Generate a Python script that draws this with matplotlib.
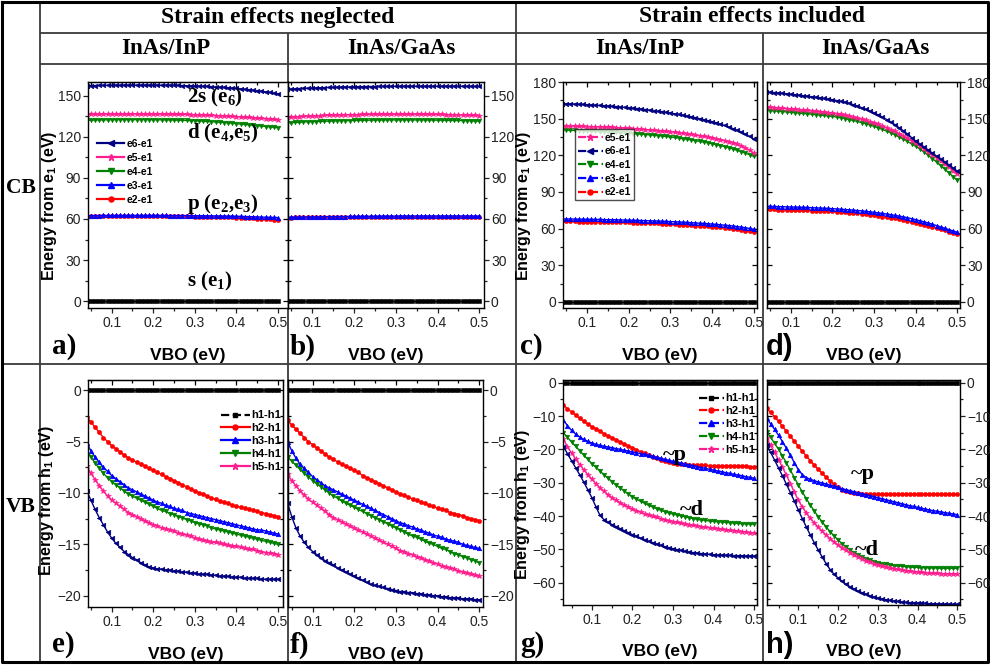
import matplotlib
matplotlib.use("Agg")
import matplotlib.pyplot as plt
from matplotlib.ticker import MultipleLocator, FormatStrFormatter
from matplotlib.lines import Line2D

plt.rcParams['font.family'] = ['Liberation Sans', 'DejaVu Sans']
plt.rcParams['mathtext.default'] = 'regular'

# ---------------- data ----------------
vbo = [0.04, 0.05, 0.06, 0.07, 0.08, 0.09, 0.10, 0.11, 0.12, 0.13,
       0.14, 0.15, 0.16, 0.17, 0.18, 0.19, 0.20, 0.21, 0.22, 0.23,
       0.24, 0.25, 0.26, 0.27, 0.28, 0.29, 0.30, 0.31, 0.32, 0.33,
       0.34, 0.35, 0.36, 0.37, 0.38, 0.39, 0.40, 0.41, 0.42, 0.43,
       0.44, 0.45, 0.46, 0.47, 0.48, 0.49, 0.50]
vbo_g = [0.03, 0.04, 0.05, 0.06, 0.07, 0.08, 0.09, 0.10, 0.11, 0.12,
         0.13, 0.14, 0.15, 0.16, 0.17, 0.18, 0.19, 0.20, 0.21, 0.22,
         0.23, 0.24, 0.25, 0.26, 0.27, 0.28, 0.29, 0.30, 0.31, 0.32,
         0.33, 0.34, 0.35, 0.36, 0.37, 0.38, 0.39, 0.40, 0.41, 0.42,
         0.43, 0.44, 0.45, 0.46, 0.47, 0.48, 0.49, 0.50]
vbo_h = [0.02, 0.03, 0.04, 0.05, 0.06, 0.07, 0.08, 0.09, 0.10, 0.11,
         0.12, 0.13, 0.14, 0.15, 0.16, 0.17, 0.18, 0.19, 0.20, 0.21,
         0.22, 0.23, 0.24, 0.25, 0.26, 0.27, 0.28, 0.29, 0.30, 0.31,
         0.32, 0.33, 0.34, 0.35, 0.36, 0.37, 0.38, 0.39, 0.40, 0.41,
         0.42, 0.43, 0.44, 0.45, 0.46, 0.47, 0.48, 0.49, 0.50]

zero = [0, 0, 0, 0, 0, 0, 0, 0, 0, 0,
        0, 0, 0, 0, 0, 0, 0, 0, 0, 0,
        0, 0, 0, 0, 0, 0, 0, 0, 0, 0,
        0, 0, 0, 0, 0, 0, 0, 0, 0, 0,
        0, 0, 0, 0, 0, 0, 0]
zero_g = [0, 0, 0, 0, 0, 0, 0, 0, 0, 0,
          0, 0, 0, 0, 0, 0, 0, 0, 0, 0,
          0, 0, 0, 0, 0, 0, 0, 0, 0, 0,
          0, 0, 0, 0, 0, 0, 0, 0, 0, 0,
          0, 0, 0, 0, 0, 0, 0, 0]
zero_h = [0, 0, 0, 0, 0, 0, 0, 0, 0, 0,
          0, 0, 0, 0, 0, 0, 0, 0, 0, 0,
          0, 0, 0, 0, 0, 0, 0, 0, 0, 0,
          0, 0, 0, 0, 0, 0, 0, 0, 0, 0,
          0, 0, 0, 0, 0, 0, 0, 0, 0]

# (a) strain neglected, InAs/InP, conduction band
a_e2 = [62.0, 62.0, 62.1, 62.1, 62.1, 62.2, 62.2, 62.2, 62.2, 62.2,
        62.2, 62.2, 62.2, 62.2, 62.2, 62.2, 62.2, 62.2, 62.2, 62.1,
        62.1, 62.1, 62.0, 62.0, 61.9, 61.9, 61.8, 61.8, 61.7, 61.6,
        61.6, 61.5, 61.4, 61.3, 61.2, 61.1, 61.0, 60.9, 60.7, 60.6,
        60.4, 60.3, 60.1, 59.9, 59.7, 59.5, 59.3]
a_e3 = [62.4, 62.5, 62.5, 62.5, 62.6, 62.6, 62.6, 62.6, 62.6, 62.6,
        62.6, 62.6, 62.6, 62.6, 62.6, 62.6, 62.6, 62.6, 62.6, 62.6,
        62.5, 62.5, 62.5, 62.5, 62.5, 62.4, 62.4, 62.4, 62.3, 62.3,
        62.3, 62.2, 62.2, 62.1, 62.1, 62.0, 62.0, 61.9, 61.8, 61.7,
        61.6, 61.5, 61.4, 61.3, 61.2, 61.1, 61.0]
a_e4 = [132.0, 132.1, 132.2, 132.3, 132.3, 132.4, 132.4, 132.5, 132.5, 132.5,
        132.5, 132.5, 132.5, 132.5, 132.5, 132.5, 132.4, 132.4, 132.4, 132.3,
        132.3, 132.2, 132.1, 132.0, 131.9, 131.8, 131.7, 131.5, 131.4, 131.2,
        131.0, 130.8, 130.6, 130.4, 130.2, 129.9, 129.6, 129.3, 129.0, 128.7,
        128.4, 128.1, 127.8, 127.5, 127.2, 126.9, 126.6]
a_e5 = [136.4, 136.5, 136.5, 136.6, 136.6, 136.6, 136.7, 136.7, 136.7, 136.7,
        136.7, 136.7, 136.7, 136.7, 136.7, 136.7, 136.7, 136.6, 136.6, 136.6,
        136.5, 136.5, 136.4, 136.4, 136.3, 136.2, 136.1, 136.0, 135.9, 135.8,
        135.7, 135.5, 135.4, 135.2, 135.1, 134.9, 134.7, 134.5, 134.3, 134.1,
        133.9, 133.7, 133.5, 133.2, 133.0, 132.7, 132.4]
a_e6 = [157.3, 157.4, 157.4, 157.5, 157.5, 157.6, 157.6, 157.6, 157.6, 157.7,
        157.7, 157.7, 157.7, 157.7, 157.7, 157.7, 157.7, 157.7, 157.6, 157.6,
        157.6, 157.5, 157.5, 157.4, 157.3, 157.2, 157.1, 157.0, 156.9, 156.8,
        156.6, 156.4, 156.2, 156.0, 155.8, 155.6, 155.3, 155.0, 154.7, 154.4,
        154.0, 153.6, 153.2, 152.8, 152.4, 151.9, 151.4]

# (b) strain neglected, InAs/GaAs, conduction band
b_e2 = [61.0, 61.0, 61.1, 61.1, 61.1, 61.2, 61.2, 61.2, 61.3, 61.3,
        61.3, 61.3, 61.4, 61.4, 61.4, 61.4, 61.4, 61.5, 61.5, 61.5,
        61.5, 61.5, 61.5, 61.5, 61.6, 61.6, 61.6, 61.6, 61.6, 61.6,
        61.6, 61.6, 61.6, 61.6, 61.6, 61.6, 61.6, 61.6, 61.6, 61.6,
        61.6, 61.6, 61.6, 61.5, 61.5, 61.5, 61.5]
b_e3 = [61.2, 61.3, 61.3, 61.4, 61.4, 61.5, 61.5, 61.6, 61.6, 61.7,
        61.7, 61.7, 61.8, 61.8, 61.8, 61.9, 61.9, 61.9, 62.0, 62.0,
        62.0, 62.0, 62.1, 62.1, 62.1, 62.1, 62.1, 62.2, 62.2, 62.2,
        62.2, 62.2, 62.2, 62.2, 62.2, 62.2, 62.2, 62.2, 62.2, 62.2,
        62.2, 62.2, 62.2, 62.2, 62.2, 62.1, 62.1]
b_e4 = [130.1, 130.3, 130.5, 130.6, 130.8, 130.9, 131.0, 131.1, 131.2, 131.3,
        131.4, 131.5, 131.6, 131.7, 131.8, 131.8, 131.9, 132.0, 132.0, 132.1,
        132.1, 132.2, 132.2, 132.2, 132.3, 132.3, 132.3, 132.3, 132.3, 132.3,
        132.3, 132.3, 132.3, 132.2, 132.2, 132.2, 132.1, 132.1, 132.0, 132.0,
        131.9, 131.9, 131.8, 131.7, 131.6, 131.5, 131.4]
b_e5 = [134.2, 134.4, 134.6, 134.8, 134.9, 135.1, 135.2, 135.3, 135.5, 135.6,
        135.7, 135.8, 135.9, 136.0, 136.0, 136.1, 136.2, 136.2, 136.3, 136.3,
        136.4, 136.4, 136.4, 136.5, 136.5, 136.5, 136.5, 136.5, 136.5, 136.5,
        136.5, 136.5, 136.5, 136.4, 136.4, 136.4, 136.3, 136.3, 136.2, 136.2,
        136.1, 136.0, 135.9, 135.8, 135.7, 135.6, 135.5]
b_e6 = [154.6, 154.8, 155.0, 155.2, 155.3, 155.5, 155.6, 155.7, 155.8, 155.9,
        156.0, 156.1, 156.2, 156.3, 156.4, 156.4, 156.5, 156.6, 156.6, 156.7,
        156.7, 156.7, 156.8, 156.8, 156.8, 156.8, 156.9, 156.9, 156.9, 156.9,
        156.9, 156.9, 156.9, 156.9, 156.9, 156.9, 156.9, 156.9, 156.9, 156.9,
        156.9, 156.9, 156.9, 156.9, 156.8, 156.8, 156.8]

# (c) strain included, InAs/InP, conduction band
c_e2 = [66.0, 66.0, 65.9, 65.9, 65.8, 65.8, 65.7, 65.7, 65.6, 65.6,
        65.5, 65.4, 65.4, 65.3, 65.2, 65.1, 65.0, 64.9, 64.8, 64.7,
        64.6, 64.5, 64.3, 64.2, 64.0, 63.9, 63.7, 63.5, 63.3, 63.1,
        62.9, 62.7, 62.5, 62.3, 62.0, 61.8, 61.5, 61.2, 60.9, 60.5,
        60.1, 59.7, 59.3, 58.8, 58.3, 57.8, 57.2]
c_e3 = [67.9, 67.9, 67.8, 67.8, 67.7, 67.7, 67.6, 67.6, 67.5, 67.5,
        67.4, 67.3, 67.3, 67.2, 67.1, 67.0, 66.9, 66.8, 66.7, 66.6,
        66.5, 66.4, 66.3, 66.2, 66.0, 65.9, 65.7, 65.6, 65.4, 65.2,
        65.0, 64.8, 64.6, 64.4, 64.2, 64.0, 63.7, 63.4, 63.1, 62.8,
        62.5, 62.1, 61.7, 61.2, 60.7, 60.1, 59.4]
c_e4 = [140.7, 140.6, 140.5, 140.3, 140.2, 140.0, 139.9, 139.7, 139.6, 139.4,
        139.3, 139.1, 138.9, 138.7, 138.5, 138.2, 138.0, 137.8, 137.5, 137.3,
        137.0, 136.7, 136.4, 136.1, 135.8, 135.4, 135.0, 134.6, 134.1, 133.6,
        133.1, 132.6, 132.0, 131.4, 130.8, 130.2, 129.5, 128.8, 128.0, 127.1,
        126.2, 125.2, 124.1, 123.0, 121.8, 120.5, 119.1]
c_e5 = [144.0, 143.9, 143.9, 143.8, 143.7, 143.6, 143.5, 143.4, 143.3, 143.2,
        143.1, 142.9, 142.8, 142.6, 142.4, 142.2, 142.0, 141.8, 141.6, 141.4,
        141.1, 140.8, 140.5, 140.2, 139.9, 139.6, 139.3, 138.9, 138.5, 138.1,
        137.6, 137.1, 136.6, 136.1, 135.5, 134.9, 134.3, 133.6, 132.9, 132.1,
        131.2, 130.2, 129.1, 127.8, 126.3, 124.2, 121.8]
c_e6 = [162.3, 162.2, 162.1, 162.0, 161.8, 161.6, 161.4, 161.2, 161.0, 160.8,
        160.6, 160.4, 160.1, 159.8, 159.5, 159.2, 158.9, 158.6, 158.2, 157.8,
        157.4, 157.0, 156.6, 156.1, 155.6, 155.1, 154.6, 154.0, 153.4, 152.8,
        152.2, 151.5, 150.8, 150.0, 149.2, 148.4, 147.5, 146.5, 145.5, 144.4,
        143.2, 141.9, 140.5, 139.0, 137.3, 135.4, 133.3]

# (d) strain included, InAs/GaAs, conduction band
d_e2 = [75.9, 75.8, 75.7, 75.6, 75.5, 75.4, 75.3, 75.2, 75.1, 75.0,
        74.9, 74.8, 74.7, 74.6, 74.4, 74.3, 74.1, 73.9, 73.7, 73.4,
        73.1, 72.8, 72.5, 72.2, 71.8, 71.4, 70.9, 70.4, 69.9, 69.4,
        68.9, 68.3, 67.7, 67.0, 66.3, 65.5, 64.7, 63.9, 63.1, 62.3,
        61.4, 60.5, 59.5, 58.5, 57.5, 56.5, 55.6]
d_e3 = [78.3, 78.2, 78.1, 78.0, 77.9, 77.8, 77.7, 77.6, 77.5, 77.4,
        77.3, 77.1, 77.0, 76.8, 76.7, 76.5, 76.3, 76.1, 75.9, 75.6,
        75.4, 75.1, 74.8, 74.5, 74.1, 73.7, 73.3, 72.8, 72.4, 71.9,
        71.4, 70.8, 70.2, 69.6, 68.9, 68.1, 67.3, 66.4, 65.5, 64.5,
        63.5, 62.4, 61.3, 60.2, 59.1, 58.0, 56.9]
d_e4 = [156.7, 156.5, 156.3, 156.1, 155.8, 155.5, 155.2, 154.9, 154.6, 154.3,
        154.0, 153.6, 153.3, 152.9, 152.6, 152.2, 151.9, 151.3, 150.7, 150.0,
        149.3, 148.5, 147.7, 146.8, 145.8, 144.8, 143.7, 142.5, 141.2, 139.8,
        138.3, 136.7, 135.0, 133.2, 131.3, 129.3, 127.3, 125.0, 122.6, 120.0,
        117.3, 114.4, 111.4, 108.4, 105.4, 102.4, 99.4]
d_e5 = [159.5, 159.3, 159.1, 158.9, 158.6, 158.3, 158.0, 157.7, 157.4, 157.0,
        156.7, 156.4, 156.0, 155.7, 155.3, 155.0, 154.6, 154.0, 153.4, 152.7,
        152.0, 151.2, 150.4, 149.6, 148.6, 147.6, 146.5, 145.3, 144.0, 142.6,
        141.1, 139.5, 137.8, 136.0, 134.1, 132.1, 130.0, 127.7, 125.4, 123.0,
        120.6, 118.1, 115.5, 112.8, 110.1, 107.4, 104.7]
d_e6 = [171.8, 171.6, 171.3, 171.0, 170.7, 170.4, 170.0, 169.6, 169.2, 168.8,
        168.4, 167.9, 167.5, 167.0, 166.5, 166.0, 165.5, 164.8, 164.2, 163.5,
        162.6, 161.4, 160.3, 159.0, 157.7, 156.2, 154.6, 153.0, 151.2, 149.3,
        147.2, 145.0, 142.6, 140.1, 137.4, 134.5, 131.4, 129.0, 126.6, 124.1,
        121.6, 119.2, 116.8, 114.3, 111.8, 109.4, 106.9]

# (e) strain neglected, InAs/InP, valence band
e_h2 = [-2.6, -3.1, -3.6, -4.1, -4.6, -5.0, -5.4, -5.7, -6.0, -6.3,
        -6.6, -6.8, -7.0, -7.2, -7.4, -7.6, -7.8, -8.0, -8.2, -8.4,
        -8.6, -8.8, -9.0, -9.2, -9.4, -9.6, -9.8, -10.0, -10.1, -10.3,
        -10.5, -10.6, -10.8, -10.9, -11.0, -11.2, -11.3, -11.4, -11.5, -11.6,
        -11.7, -11.8, -11.9, -12.0, -12.1, -12.2, -12.3]
e_h3 = [-5.1, -5.9, -6.5, -7.0, -7.5, -7.9, -8.3, -8.6, -8.9, -9.2,
        -9.5, -9.7, -9.9, -10.1, -10.3, -10.5, -10.7, -10.9, -11.0, -11.2,
        -11.3, -11.5, -11.6, -11.7, -11.9, -12.0, -12.1, -12.2, -12.3, -12.4,
        -12.5, -12.6, -12.7, -12.8, -12.9, -13.0, -13.1, -13.2, -13.3, -13.4,
        -13.5, -13.6, -13.6, -13.7, -13.8, -13.9, -14.0]
e_h4 = [-5.8, -6.5, -7.1, -7.6, -8.1, -8.5, -8.9, -9.2, -9.5, -9.8,
        -10.1, -10.3, -10.5, -10.7, -10.9, -11.1, -11.3, -11.5, -11.7, -11.8,
        -12.0, -12.1, -12.3, -12.4, -12.6, -12.7, -12.9, -13.0, -13.1, -13.2,
        -13.4, -13.5, -13.6, -13.7, -13.8, -13.9, -14.0, -14.1, -14.2, -14.3,
        -14.4, -14.5, -14.6, -14.7, -14.8, -14.9, -15.0]
e_h5 = [-7.4, -8.1, -8.7, -9.3, -9.8, -10.3, -10.7, -11.0, -11.3, -11.6,
        -11.9, -12.1, -12.3, -12.5, -12.7, -12.9, -13.1, -13.2, -13.4, -13.5,
        -13.6, -13.7, -13.9, -14.0, -14.1, -14.2, -14.4, -14.5, -14.6, -14.7,
        -14.8, -14.8, -14.9, -15.0, -15.1, -15.2, -15.2, -15.3, -15.4, -15.5,
        -15.5, -15.6, -15.7, -15.8, -15.8, -15.9, -16.0]
e_h6 = [-9.8, -10.7, -11.6, -12.4, -13.1, -13.8, -14.4, -14.9, -15.3, -15.7,
        -16.0, -16.3, -16.5, -16.8, -17.0, -17.2, -17.3, -17.4, -17.4, -17.5,
        -17.5, -17.6, -17.6, -17.7, -17.7, -17.8, -17.8, -17.9, -17.9, -17.9,
        -18.0, -18.0, -18.1, -18.1, -18.1, -18.2, -18.2, -18.2, -18.3, -18.3,
        -18.3, -18.3, -18.4, -18.4, -18.4, -18.4, -18.4]

# (f) strain neglected, InAs/GaAs, valence band
f_h2 = [-2.9, -3.4, -3.8, -4.2, -4.6, -5.0, -5.3, -5.6, -5.9, -6.2,
        -6.5, -6.7, -7.0, -7.2, -7.4, -7.6, -7.8, -8.0, -8.3, -8.5,
        -8.7, -8.9, -9.1, -9.3, -9.5, -9.7, -9.9, -10.1, -10.2, -10.4,
        -10.6, -10.7, -10.9, -11.0, -11.2, -11.3, -11.5, -11.6, -11.7, -11.9,
        -12.0, -12.1, -12.2, -12.4, -12.5, -12.6, -12.7]
f_h3 = [-5.0, -5.9, -6.6, -7.2, -7.6, -8.0, -8.4, -8.7, -9.0, -9.3,
        -9.5, -9.7, -9.9, -10.1, -10.3, -10.5, -10.7, -10.9, -11.1, -11.3,
        -11.5, -11.7, -11.9, -12.1, -12.3, -12.5, -12.7, -12.9, -13.0, -13.2,
        -13.3, -13.5, -13.6, -13.8, -13.9, -14.1, -14.2, -14.3, -14.5, -14.6,
        -14.7, -14.8, -15.0, -15.1, -15.2, -15.3, -15.4]
f_h4 = [-6.5, -6.9, -7.3, -7.7, -8.1, -8.4, -8.8, -9.1, -9.4, -9.7,
        -10.0, -10.3, -10.5, -10.8, -11.0, -11.2, -11.4, -11.6, -11.8, -12.0,
        -12.2, -12.4, -12.6, -12.8, -13.0, -13.2, -13.4, -13.6, -13.8, -14.0,
        -14.2, -14.3, -14.5, -14.7, -14.9, -15.0, -15.2, -15.4, -15.5, -15.7,
        -15.9, -16.0, -16.2, -16.3, -16.5, -16.6, -16.8]
f_h5 = [-8.2, -8.8, -9.3, -9.8, -10.2, -10.6, -10.9, -11.2, -11.5, -11.8,
        -12.1, -12.4, -12.6, -12.8, -13.0, -13.2, -13.4, -13.6, -13.8, -14.0,
        -14.2, -14.4, -14.6, -14.8, -15.0, -15.2, -15.4, -15.6, -15.7, -15.9,
        -16.0, -16.2, -16.3, -16.5, -16.6, -16.8, -16.9, -17.1, -17.2, -17.3,
        -17.4, -17.6, -17.7, -17.8, -17.9, -18.0, -18.1]
f_h6 = [-11.0, -12.3, -13.4, -14.2, -14.8, -15.3, -15.7, -16.0, -16.3, -16.6,
        -16.8, -17.0, -17.3, -17.5, -17.7, -17.9, -18.1, -18.3, -18.5, -18.7,
        -18.9, -19.0, -19.1, -19.2, -19.3, -19.4, -19.5, -19.6, -19.6, -19.7,
        -19.7, -19.8, -19.8, -19.9, -19.9, -20.0, -20.0, -20.1, -20.1, -20.2,
        -20.2, -20.2, -20.3, -20.3, -20.3, -20.4, -20.4]

# (g) strain included, InAs/InP, valence band
g_h2 = [-6.7, -7.8, -8.8, -9.8, -10.7, -11.6, -12.4, -13.2, -13.9, -14.6,
        -15.3, -16.0, -16.6, -17.2, -17.8, -18.4, -19.0, -19.6, -20.1, -20.7,
        -21.2, -21.7, -22.2, -22.7, -23.1, -23.5, -23.8, -24.1, -24.3, -24.4,
        -24.5, -24.6, -24.7, -24.7, -24.8, -24.8, -24.9, -24.9, -24.9, -25.0,
        -25.0, -25.0, -25.1, -25.1, -25.1, -25.1, -25.2, -25.2]
g_h3 = [-11.2, -12.9, -14.3, -15.4, -16.3, -17.0, -17.6, -18.1, -18.5, -18.8,
        -19.1, -19.3, -19.5, -19.8, -20.0, -20.3, -20.5, -20.8, -21.0, -21.3,
        -21.5, -21.8, -22.1, -22.4, -22.7, -23.0, -23.3, -23.6, -23.8, -24.1,
        -24.4, -24.7, -24.9, -25.2, -25.5, -25.7, -26.0, -26.2, -26.5, -26.7,
        -27.0, -27.2, -27.5, -27.7, -27.9, -28.2, -28.4, -28.7]
g_h4 = [-15.0, -16.4, -17.8, -19.1, -20.4, -21.7, -23.0, -24.3, -25.4, -26.5,
        -27.6, -28.7, -29.7, -30.7, -31.6, -32.5, -33.4, -34.2, -34.9, -35.6,
        -36.2, -36.8, -37.3, -37.8, -38.3, -38.7, -39.1, -39.4, -39.7, -40.0,
        -40.3, -40.5, -40.8, -41.0, -41.2, -41.3, -41.5, -41.6, -41.7, -41.8,
        -41.9, -42.0, -42.1, -42.2, -42.3, -42.4, -42.4, -42.5]
g_h5 = [-17.0, -19.2, -21.1, -22.9, -24.6, -26.1, -27.6, -29.0, -30.3, -31.5,
        -32.6, -33.6, -34.5, -35.3, -36.0, -36.7, -37.3, -37.9, -38.4, -38.9,
        -39.3, -39.7, -40.1, -40.4, -40.8, -41.1, -41.4, -41.7, -41.9, -42.2,
        -42.4, -42.6, -42.8, -43.0, -43.2, -43.4, -43.5, -43.7, -43.8, -44.0,
        -44.1, -44.3, -44.4, -44.6, -44.7, -44.8, -45.0, -45.1]
g_h6 = [-19.2, -21.3, -23.4, -25.5, -27.6, -29.8, -32.1, -34.5, -37.2, -39.8,
        -41.1, -41.9, -42.6, -43.2, -43.8, -44.4, -45.0, -45.6, -46.1, -46.6,
        -47.1, -47.6, -48.0, -48.4, -48.8, -49.2, -49.5, -49.8, -50.1, -50.3,
        -50.6, -50.8, -51.0, -51.1, -51.3, -51.4, -51.5, -51.6, -51.7, -51.7,
        -51.8, -51.8, -51.9, -51.9, -51.9, -52.0, -52.0, -52.0]

# (h) strain included, InAs/GaAs, valence band
h_h2 = [-7.7, -8.9, -10.2, -11.6, -13.1, -14.6, -16.1, -17.6, -19.1, -20.6,
        -22.0, -23.4, -24.7, -26.0, -27.2, -28.4, -29.5, -30.5, -31.4, -32.1,
        -32.6, -32.9, -33.1, -33.2, -33.3, -33.3, -33.3, -33.4, -33.4, -33.4,
        -33.4, -33.4, -33.4, -33.4, -33.4, -33.4, -33.4, -33.4, -33.4, -33.4,
        -33.4, -33.4, -33.4, -33.4, -33.4, -33.4, -33.4, -33.4, -33.4]
h_h3 = [-10.7, -12.3, -14.0, -15.8, -17.7, -19.7, -21.8, -24.0, -26.1, -27.6,
        -28.5, -29.0, -29.4, -29.8, -30.1, -30.4, -30.8, -31.1, -31.4, -31.8,
        -32.1, -32.4, -32.7, -33.0, -33.3, -33.6, -33.9, -34.2, -34.5, -34.8,
        -35.1, -35.4, -35.7, -36.0, -36.3, -36.6, -36.9, -37.1, -37.4, -37.7,
        -37.9, -38.2, -38.4, -38.6, -38.8, -39.0, -39.2, -39.4, -39.6]
h_h4 = [-14.7, -16.4, -18.2, -20.0, -22.0, -24.1, -26.3, -28.5, -30.7, -32.8,
        -34.8, -36.7, -38.5, -40.2, -41.8, -43.3, -44.7, -46.0, -47.2, -48.3,
        -49.3, -50.2, -51.0, -51.7, -52.3, -52.8, -53.3, -53.7, -54.0, -54.3,
        -54.5, -54.7, -54.9, -55.0, -55.1, -55.2, -55.3, -55.4, -55.4, -55.5,
        -55.5, -55.6, -55.6, -55.6, -55.7, -55.7, -55.7, -55.7, -55.7]
h_h5 = [-16.7, -18.8, -20.9, -23.1, -25.4, -27.8, -30.3, -32.9, -35.3, -37.3,
        -39.1, -40.7, -42.1, -43.4, -44.6, -45.7, -46.8, -47.8, -48.7, -49.5,
        -50.3, -51.0, -51.7, -52.3, -52.9, -53.4, -53.9, -54.3, -54.7, -55.0,
        -55.3, -55.6, -55.8, -56.0, -56.2, -56.4, -56.5, -56.7, -56.8, -56.9,
        -57.0, -57.1, -57.2, -57.2, -57.3, -57.3, -57.4, -57.4, -57.5]
h_h6 = [-18.7, -20.9, -23.2, -25.6, -28.0, -30.5, -33.0, -35.6, -38.2, -40.8,
        -43.3, -45.7, -48.0, -50.2, -52.3, -54.3, -56.1, -57.5, -58.6, -59.6,
        -60.5, -61.2, -61.9, -62.5, -63.0, -63.5, -63.9, -64.3, -64.6, -64.9,
        -65.1, -65.3, -65.5, -65.6, -65.8, -65.9, -66.0, -66.0, -66.1, -66.2,
        -66.2, -66.3, -66.3, -66.4, -66.4, -66.4, -66.5, -66.5, -66.5]

# ---------------- styles ----------------
C_BLACK, C_RED, C_BLUE, C_GREEN, C_PINK, C_NAVY = ('#000000', '#FF0000', '#0000FF',
                                                   '#008000', '#FF1C8E', '#000080')
ST = {
    1: dict(color=C_BLACK, marker='s', ms=2.6),
    2: dict(color=C_RED, marker='o', ms=3.0),
    3: dict(color=C_BLUE, marker='^', ms=3.3),
    4: dict(color=C_GREEN, marker='v', ms=3.3),
    5: dict(color=C_PINK, marker='*', ms=4.2),
    6: dict(color=C_NAVY, marker='<', ms=3.3),
}

W, H = 990, 665
fig = plt.figure(figsize=(9.9, 6.65), dpi=100)


def rect(x0, y0, x1, y1):
    return [x0 / W, 1 - y1 / H, (x1 - x0) / W, (y1 - y0) / H]


def ftext(x, y, s, **kw):
    return fig.text(x / W, 1 - y / H, s, zorder=10, **kw)


# background "table"
bg = fig.add_axes([0, 0, 1, 1], zorder=-5)
bg.set_xlim(0, W)
bg.set_ylim(H, 0)
bg.axis('off')
GL = dict(color='#3a3a3a', lw=1.3, solid_capstyle='butt')
bg.plot([40, 988], [33, 33], **GL)
bg.plot([40, 988], [64, 64], **GL)
bg.plot([2, 988], [364, 364], **GL)
bg.plot([40, 40], [2, 663], **GL)
bg.plot([516, 516], [2, 663], **GL)
bg.plot([288, 288], [33, 663], **GL)
bg.plot([763, 763], [33, 663], **GL)
OB = dict(color='black', lw=2.2)
bg.plot([2, 988, 988, 2, 2], [2, 2, 662, 662, 2], **OB)

SER = ['Liberation Serif', 'DejaVu Serif']
HEAD = dict(family=SER, weight='bold', ha='center', va='center')
ftext(278, 17, 'Strain effects neglected', fontsize=17, **HEAD)
ftext(752, 17, 'Strain effects included', fontsize=17, **HEAD)
for xc, t in [(166, 'InAs/InP'), (401, 'InAs/GaAs'), (640, 'InAs/InP'), (875, 'InAs/GaAs')]:
    ftext(xc, 48, t, fontsize=16.5, **HEAD)
ftext(21, 188, 'CB', fontsize=15.5, **HEAD)
ftext(21, 507, 'VB', fontsize=15.5, **HEAD)

TKW = dict(width=0.9)


def make_axes(box, xlim, ylim, ymaj, ymin, side):
    ax = fig.add_axes(rect(*box))
    ax.set_xlim(*xlim)
    ax.set_ylim(*ylim)
    ax.xaxis.set_major_locator(MultipleLocator(0.1))
    ax.xaxis.set_minor_locator(MultipleLocator(0.05))
    ax.xaxis.set_major_formatter(FormatStrFormatter('%.1f'))
    ax.yaxis.set_major_locator(MultipleLocator(ymaj))
    ax.yaxis.set_minor_locator(MultipleLocator(ymin))
    ax.tick_params(which='both', direction='out', labelsize=10, colors='#222222', **TKW)
    ax.tick_params(which='major', length=3.5)
    ax.tick_params(which='minor', length=2.0)
    ax.tick_params(axis='x', pad=2.5)
    ax.tick_params(axis='y', pad=1.5)
    top = ax.secondary_xaxis('top')
    top.xaxis.set_major_locator(MultipleLocator(0.1))
    top.xaxis.set_minor_locator(MultipleLocator(0.05))
    top.tick_params(which='both', direction='in', labeltop=False, **TKW)
    top.tick_params(which='major', length=3.5)
    top.tick_params(which='minor', length=2.0)
    if side == 'left':
        other = ax.secondary_yaxis('right')
        other.tick_params(which='both', labelright=False)
    else:
        ax.yaxis.tick_right()
        other = ax.secondary_yaxis('left')
        other.tick_params(which='both', labelleft=False)
    other.yaxis.set_major_locator(MultipleLocator(ymaj))
    other.yaxis.set_minor_locator(MultipleLocator(ymin))
    other.tick_params(which='both', direction='in', **TKW)
    other.tick_params(which='major', length=3.5)
    other.tick_params(which='minor', length=2.0)
    for sp in ax.spines.values():
        sp.set_linewidth(1.0)
    ax.set_xlabel('VBO (eV)', fontsize=12.5, weight='bold')
    ax.xaxis.set_label_coords(0.5, -0.175)
    return ax


def draw(ax, x, ys):
    for k, y in ys:
        st = ST[k]
        ax.plot(x, y, color=st['color'], marker=st['marker'], ms=st['ms'], lw=1.0,
                mec=st['color'], mew=0.4, clip_on=True)


def handle(k, ls='-'):
    st = ST[k]
    return Line2D([], [], color=st['color'], marker=st['marker'], ms=st['ms'] + 0.6,
                  lw=1.6, ls=ls, mec=st['color'])


YL = dict(fontsize=11.5, weight='bold')
LETTER = dict(family=SER, weight='bold', fontsize=21, ha='left', va='center')
ANN = dict(family=SER, weight='bold', fontsize=15, ha='left', va='center')

# ---- CB panels ----
ax_a = make_axes((88, 82, 288, 308), (0.043, 0.524), (-5, 160), 30, 15, 'left')
draw(ax_a, vbo, [(1, zero), (2, a_e2), (3, a_e3), (4, a_e4), (5, a_e5), (6, a_e6)])
ax_a.set_ylabel('Energy from e$_1$ (eV)', **YL)
ax_a.yaxis.set_label_coords(-0.145, 0.45)
ax_a.legend([handle(6), handle(5), handle(4), handle(3), handle(2)],
            ['e6-e1', 'e5-e1', 'e4-e1', 'e3-e1', 'e2-e1'],
            loc='upper left', bbox_to_anchor=(0.01, 0.78), frameon=False,
            prop=dict(size=7.5, weight='bold'), handlelength=2.6,
            handletextpad=0.2, labelspacing=0.38, borderpad=0.2)
ftext(187, 97, '2s (e$_6$)', **ANN)
ftext(187, 133, 'd (e$_4$,e$_5$)', **ANN)
ftext(187, 204, 'p (e$_2$,e$_3$)', **ANN)
ftext(187, 281, 's (e$_1$)', **ANN)

ax_b = make_axes((288, 82, 484, 308), (0.043, 0.511), (-5, 160), 30, 15, 'right')
draw(ax_b, vbo, [(1, zero), (2, b_e2), (3, b_e3), (4, b_e4), (5, b_e5), (6, b_e6)])

ax_c = make_axes((563, 82, 757, 308), (0.042, 0.508), (-5, 180), 30, 15, 'left')
draw(ax_c, vbo, [(1, zero), (2, c_e2), (3, c_e3), (4, c_e4), (5, c_e5), (6, c_e6)])
ax_c.set_ylabel('Energy from e$_1$ (eV)', **YL)
ax_c.yaxis.set_label_coords(-0.155, 0.45)
leg = ax_c.legend([handle(5, '--'), handle(6, '--'), handle(4, '--'), handle(3, '--'),
                   handle(2, '--')],
                  ['e5-e1', 'e6-e1', 'e4-e1', 'e3-e1', 'e2-e1'],
                  loc='upper left', bbox_to_anchor=(0.06, 0.79), frameon=True,
                  fancybox=False, edgecolor='#222222',
                  prop=dict(size=7.5, weight='bold'), handlelength=2.4,
                  handletextpad=0.2, labelspacing=0.35, borderpad=0.3, borderaxespad=0)
leg.get_frame().set_linewidth(1.0)

ax_d = make_axes((767, 82, 960, 308), (0.043, 0.506), (-5, 180), 30, 15, 'right')
draw(ax_d, vbo, [(1, zero), (2, d_e2), (3, d_e3), (4, d_e4), (5, d_e5), (6, d_e6)])

# ---- VB panels ----
ax_e = make_axes((88, 380, 283, 607), (0.043, 0.512), (-21.1, 1.0), 5, 2.5, 'left')
draw(ax_e, vbo, [(1, zero), (2, e_h2), (3, e_h3), (4, e_h4), (5, e_h5), (6, e_h6)])
ax_e.set_ylabel('Energy from h$_1$ (eV)', **YL)
ax_e.yaxis.set_label_coords(-0.165, 0.47)
ax_e.legend([handle(1, '--'), handle(2), handle(3), handle(4), handle(5)],
            ['h1-h1', 'h2-h1', 'h3-h1', 'h4-h1', 'h5-h1'],
            loc='upper right', bbox_to_anchor=(1.03, 0.9), frameon=False,
            prop=dict(size=8, weight='bold'), handlelength=2.6,
            handletextpad=0.15, labelspacing=0.25, borderpad=0.2)

ax_f = make_axes((288, 380, 483, 607), (0.041, 0.509), (-21.1, 1.0), 5, 2.5, 'right')
draw(ax_f, vbo, [(1, zero), (2, f_h2), (3, f_h3), (4, f_h4), (5, f_h5), (6, f_h6)])

ax_g = make_axes((563, 380, 757, 605), (0.029, 0.507), (-66.7, 0.8), 10, 5, 'left')
draw(ax_g, vbo_g, [(1, zero_g), (2, g_h2), (3, g_h3), (4, g_h4), (5, g_h5), (6, g_h6)])
ax_g.set_ylabel('Energy from h$_1$ (eV)', **YL)
ax_g.yaxis.set_label_coords(-0.16, 0.445)
ax_g.legend([handle(1, '--'), handle(2, '--'), handle(3, '--'), handle(4, '--'),
             handle(5, '--')],
            ['h1-h1', 'h2-h1', 'h3-h1', 'h4-h1', 'h5-h1'],
            loc='upper right', bbox_to_anchor=(1.03, 0.975), frameon=False,
            prop=dict(size=8, weight='bold'), handlelength=2.2,
            handletextpad=0.15, labelspacing=0.25, borderpad=0.2)
ftext(675, 455, '~p', **dict(ANN, ha='center', fontsize=16))
ftext(692, 510, '~d', **dict(ANN, ha='center', fontsize=16))

ax_h = make_axes((767, 380, 960, 605), (0.021, 0.507), (-66.7, 0.8), 10, 5, 'right')
draw(ax_h, vbo_h, [(1, zero_h), (2, h_h2), (3, h_h3), (4, h_h4), (5, h_h5), (6, h_h6)])
ftext(863, 474, '~p', **dict(ANN, ha='center', fontsize=16))
ftext(867, 550, '~d', **dict(ANN, ha='center', fontsize=16))

for ax in (ax_e, ax_f, ax_g, ax_h):
    ax.xaxis.set_label_coords(0.5, -0.175)

# panel letters
ftext(52, 347, 'a)', **LETTER)
ftext(290, 347, 'b)', **LETTER)
ftext(520, 347, 'c)', **LETTER)
ftext(766, 347, 'd)', **dict(LETTER, family=['Liberation Sans']))
ftext(52, 645, 'e)', **LETTER)
ftext(290, 645, 'f)', **LETTER)
ftext(520, 645, 'g)', **LETTER)
ftext(766, 645, 'h)', **dict(LETTER, family=['Liberation Sans']))

fig.savefig('out.png', dpi=100)
